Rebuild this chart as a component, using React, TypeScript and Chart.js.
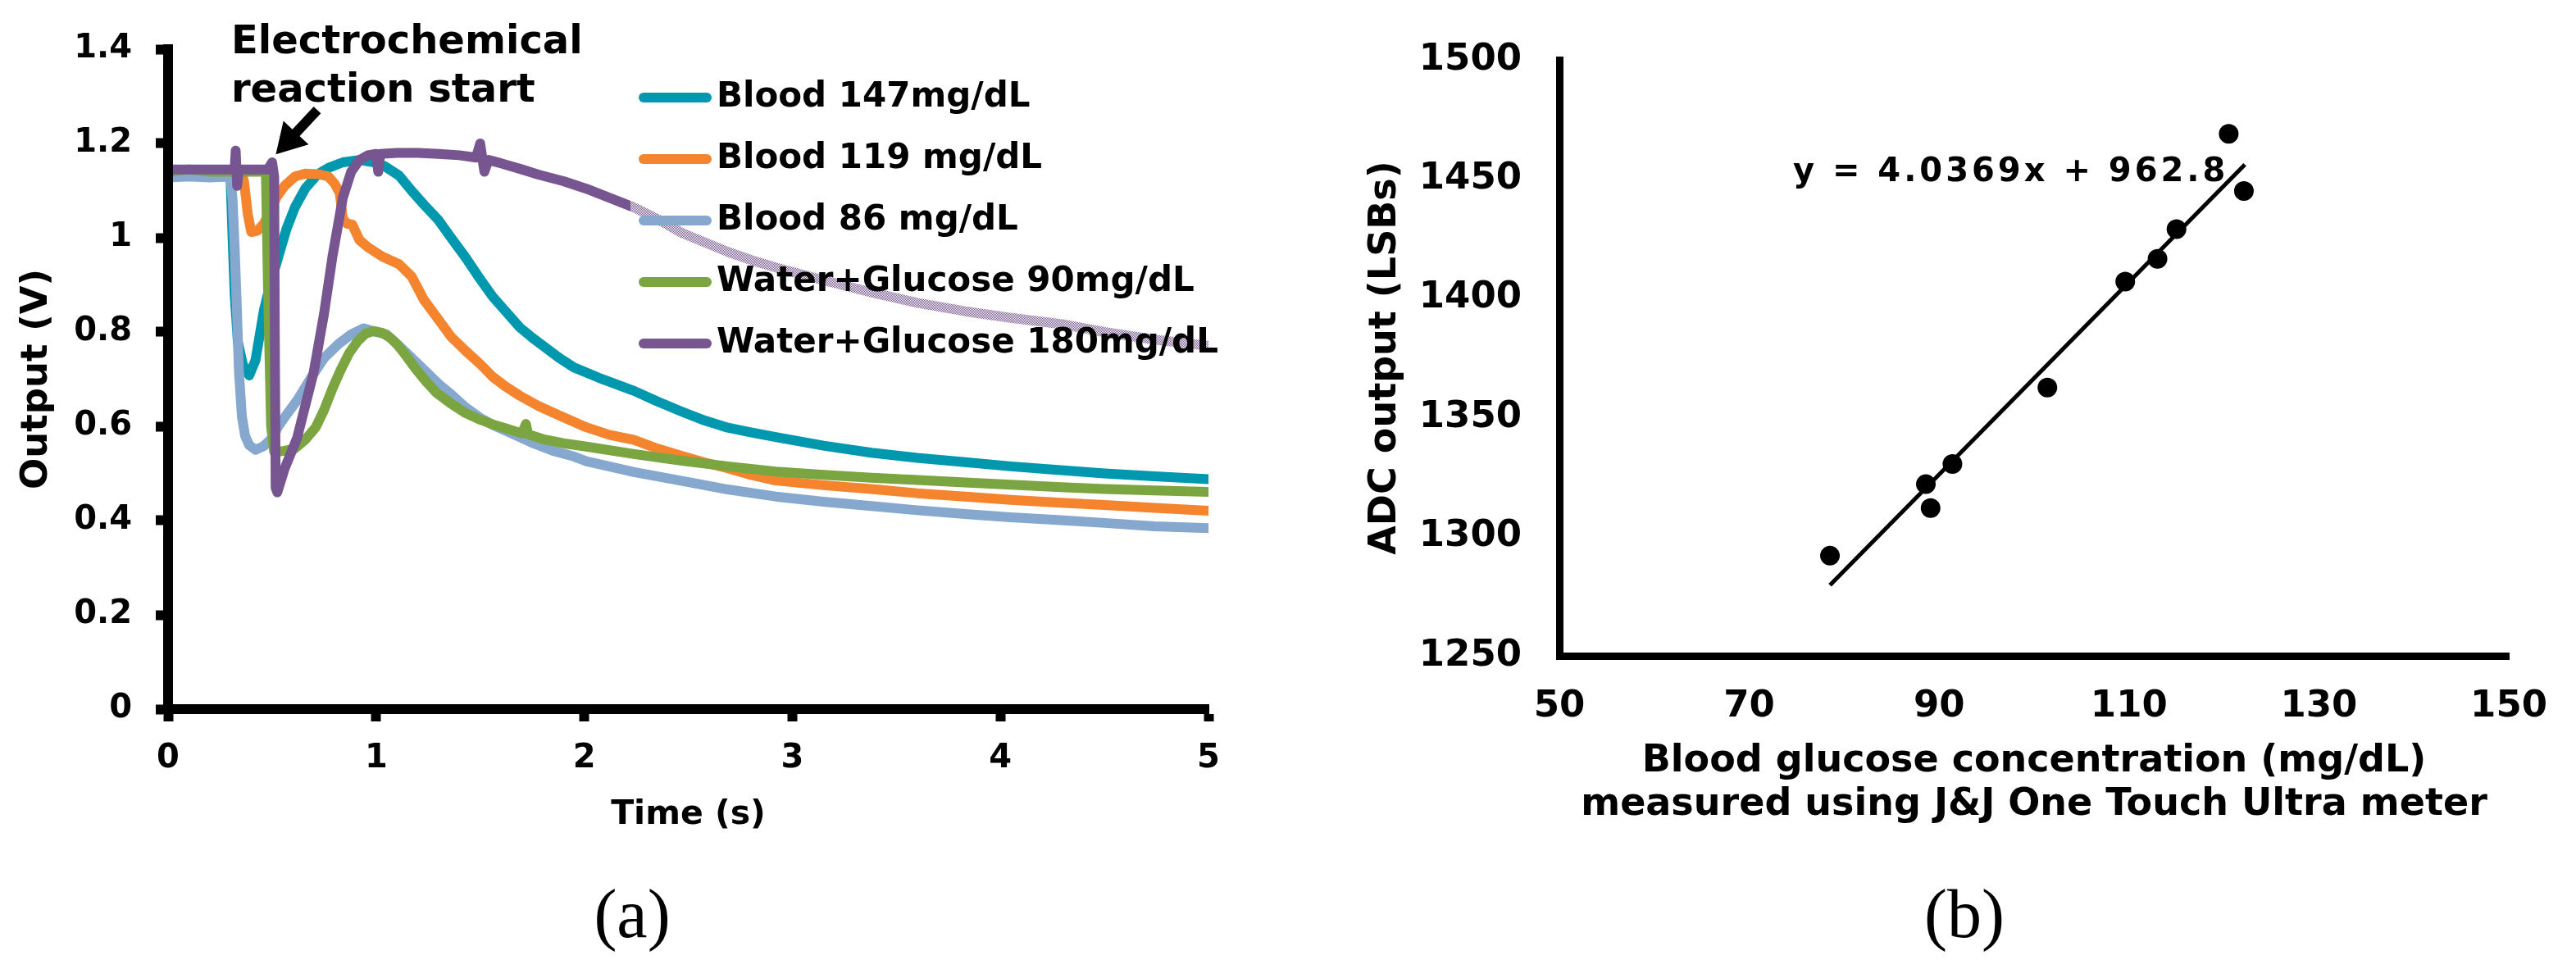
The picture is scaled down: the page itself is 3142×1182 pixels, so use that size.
import { useEffect, useRef } from 'react';
import { Chart, registerables } from 'chart.js';

Chart.register(...registerables);

const FONT = "'DejaVu Sans', Verdana, sans-serif";
Chart.defaults.font.family = FONT;
Chart.defaults.color = '#000';

// ---- (a) sensor output traces, [time (s), output (V)] ----
const blood147: [number, number][] = [
  [0, 1.13], [0.1, 1.132], [0.2, 1.13], [0.3, 1.13], [0.31, 1.0], [0.32, 0.88], [0.335, 0.78],
  [0.36, 0.73], [0.39, 0.708], [0.42, 0.74], [0.46, 0.845], [0.49, 0.9], [0.53, 0.96],
  [0.57, 1.02], [0.61, 1.065], [0.66, 1.105], [0.72, 1.135], [0.77, 1.148], [0.84, 1.16],
  [0.92, 1.165], [0.99, 1.16], [1.04, 1.152], [1.11, 1.132], [1.17, 1.1], [1.23, 1.07],
  [1.3, 1.037], [1.36, 1.0], [1.43, 0.958], [1.5, 0.912], [1.56, 0.875], [1.62, 0.845],
  [1.69, 0.81], [1.75, 0.788], [1.88, 0.745], [1.95, 0.725], [2.07, 0.703], [2.24, 0.675],
  [2.35, 0.653], [2.47, 0.631], [2.58, 0.612], [2.69, 0.597], [2.8, 0.587], [2.92, 0.577],
  [3.15, 0.559], [3.38, 0.544], [3.6, 0.533], [3.83, 0.524], [4.05, 0.515], [4.29, 0.507],
  [4.5, 0.5], [4.74, 0.494], [5, 0.488],
];

const blood119: [number, number][] = [
  [0, 1.14], [0.1, 1.142], [0.2, 1.14], [0.35, 1.14], [0.365, 1.12], [0.383, 1.05], [0.4, 1.012],
  [0.43, 1.015], [0.46, 1.03], [0.49, 1.055], [0.52, 1.085], [0.56, 1.11], [0.61, 1.13],
  [0.66, 1.136], [0.72, 1.135], [0.77, 1.13], [0.8, 1.115], [0.825, 1.095], [0.84, 1.04],
  [0.86, 1.03], [0.885, 1.028], [0.92, 0.995], [0.96, 0.98], [1.03, 0.96], [1.11, 0.944],
  [1.17, 0.918], [1.23, 0.868], [1.3, 0.826], [1.36, 0.79], [1.43, 0.76], [1.5, 0.732],
  [1.56, 0.705], [1.62, 0.685], [1.69, 0.665], [1.78, 0.643], [1.88, 0.623], [2.01, 0.598],
  [2.12, 0.582], [2.24, 0.571], [2.35, 0.553], [2.47, 0.537], [2.58, 0.523], [2.69, 0.511],
  [2.8, 0.497], [2.92, 0.485], [3.15, 0.475], [3.38, 0.467], [3.6, 0.458], [3.83, 0.451],
  [4.05, 0.444], [4.29, 0.438], [4.5, 0.433], [4.74, 0.427], [5, 0.421],
];

const blood86: [number, number][] = [
  [0, 1.128], [0.1, 1.13], [0.2, 1.128], [0.3, 1.13], [0.31, 1.08], [0.32, 0.98], [0.33, 0.86],
  [0.34, 0.72], [0.355, 0.62], [0.37, 0.58], [0.39, 0.56], [0.42, 0.55], [0.46, 0.558],
  [0.5, 0.575], [0.53, 0.6], [0.57, 0.625], [0.62, 0.655], [0.69, 0.705], [0.75, 0.745],
  [0.82, 0.775], [0.88, 0.795], [0.94, 0.808], [1.0, 0.8], [1.05, 0.795], [1.1, 0.775],
  [1.16, 0.75], [1.23, 0.72], [1.3, 0.69], [1.36, 0.668], [1.43, 0.64], [1.5, 0.618],
  [1.56, 0.603], [1.65, 0.585], [1.75, 0.565], [1.85, 0.548], [1.95, 0.536], [2.01, 0.526],
  [2.24, 0.503], [2.47, 0.484], [2.69, 0.466], [2.92, 0.451], [3.15, 0.44], [3.38, 0.431],
  [3.6, 0.422], [3.83, 0.414], [4.05, 0.407], [4.29, 0.401], [4.5, 0.395], [4.74, 0.388],
  [5, 0.384],
];

const water90: [number, number][] = [
  [0, 1.14], [0.1, 1.145], [0.2, 1.14], [0.47, 1.14], [0.48, 0.9], [0.495, 0.6], [0.51, 0.545],
  [0.56, 0.548], [0.61, 0.553], [0.66, 0.572], [0.71, 0.598], [0.75, 0.635], [0.79, 0.68],
  [0.83, 0.72], [0.87, 0.755], [0.91, 0.78], [0.95, 0.797], [0.99, 0.802], [1.03, 0.798],
  [1.07, 0.787], [1.1, 0.774], [1.14, 0.752], [1.19, 0.722], [1.24, 0.695], [1.29, 0.671],
  [1.36, 0.648], [1.43, 0.628], [1.5, 0.614], [1.56, 0.604], [1.62, 0.596], [1.7, 0.585],
  [1.72, 0.605], [1.73, 0.583], [1.8, 0.573], [1.9, 0.564], [2.01, 0.557], [2.24, 0.541],
  [2.47, 0.527], [2.69, 0.515], [2.92, 0.504], [3.15, 0.497], [3.38, 0.491], [3.6, 0.486],
  [3.83, 0.481], [4.05, 0.476], [4.29, 0.471], [4.5, 0.467], [4.74, 0.464], [5, 0.461],
];

const water180: [number, number][] = [
  [0, 1.145], [0.1, 1.145], [0.2, 1.145], [0.32, 1.145], [0.325, 1.185], [0.332, 1.11],
  [0.34, 1.145], [0.48, 1.145], [0.5, 1.16], [0.51, 1.13], [0.513, 0.8], [0.517, 0.47],
  [0.525, 0.46], [0.56, 0.51], [0.62, 0.575], [0.7, 0.715], [0.75, 0.84], [0.79, 0.96],
  [0.84, 1.085], [0.88, 1.14], [0.92, 1.165], [0.96, 1.175], [1.0, 1.178], [1.01, 1.14],
  [1.02, 1.178], [1.1, 1.18], [1.2, 1.18], [1.3, 1.178], [1.4, 1.175], [1.48, 1.17],
  [1.5, 1.2], [1.52, 1.14], [1.54, 1.165], [1.6, 1.158], [1.7, 1.145], [1.78, 1.134],
  [1.9, 1.12], [2.01, 1.104], [2.12, 1.085], [2.24, 1.064], [2.35, 1.04], [2.47, 1.01],
  [2.58, 0.99], [2.69, 0.97], [2.8, 0.953], [2.92, 0.937], [3.15, 0.91], [3.38, 0.884],
  [3.6, 0.862], [3.83, 0.844], [4.05, 0.83], [4.29, 0.817], [4.5, 0.8], [4.74, 0.784],
  [5, 0.771],
];

const traceSeries = [blood147, blood119, blood86, water90, water180];
const traceLabels = [
  'Blood 147mg/dL',
  'Blood 119 mg/dL',
  'Blood 86 mg/dL',
  'Water+Glucose 90mg/dL',
  'Water+Glucose 180mg/dL',
];
const traceColors = ['#0098ae', '#f5842f', '#86a8cf', '#7aa541', '#775590'];
const outputTicks = [0, 0.2, 0.4, 0.6, 0.8, 1, 1.2, 1.4];
const timeTicks = [0, 1, 2, 3, 4, 5];

// where the callout sits, in data units of panel (a)
const calloutText = ['Electrochemical', 'reaction start'];
const calloutAt = { x: 0.303, y: [1.391, 1.289] };
const arrowTail = { x: 0.717, y: 1.271 };
const arrowTip = { x: 0.518, y: 1.177 };

// ---- (b) calibration against the meter ----
const meterGlucose = [78.5, 88.6, 89.1, 91.4, 101.4, 109.6, 113, 115, 120.5, 122.1];
const adcOutput = [1292, 1322, 1312, 1330.5, 1362.5, 1407, 1416.5, 1429, 1469, 1445];
const trendX = [78.5, 122.2];
const trendY = [1279.7, 1456.1];
const glucoseTicks = [50, 70, 90, 110, 130, 150];
const adcTicks = [1250, 1300, 1350, 1400, 1450, 1500];
const trendLabel = 'y = 4.0369x + 962.8';
const trendLabelAt = { x: 74.6, y: 1449 };

function ditherPattern(ctx: CanvasRenderingContext2D) {
  const tile = document.createElement('canvas');
  tile.width = 2;
  tile.height = 2;
  const t = tile.getContext('2d')!;
  t.fillStyle = '#fff';
  t.fillRect(0, 0, 1, 1);
  t.fillRect(1, 1, 1, 1);
  return ctx.createPattern(tile, 'repeat')!;
}

// legend drawn over the plot, with the half-covering backdrop of the original
const tracesLegend = {
  id: 'tracesLegend',
  afterDatasetsDraw(chart: Chart) {
    const { ctx } = chart;
    ctx.save();
    ctx.fillStyle = ditherPattern(ctx);
    ctx.fillRect(769, 82, chart.width - 769, 370);

    ctx.font = `bold 42px ${FONT}`;
    ctx.textBaseline = 'middle';
    ctx.textAlign = 'left';
    chart.data.datasets.forEach((ds, i) => {
      const y = 119 + i * 75;
      ctx.strokeStyle = ds.borderColor as string;
      ctx.lineWidth = 12;
      ctx.lineCap = 'round';
      ctx.beginPath();
      ctx.moveTo(785, y);
      ctx.lineTo(862, y);
      ctx.stroke();
      ctx.fillStyle = '#000';
      ctx.fillText(ds.label as string, 874, y);
    });
    ctx.restore();
  },
  afterDraw(chart: Chart) {
    const { ctx, scales } = chart;
    const sx = scales.x;
    const sy = scales.y;
    ctx.save();
    ctx.fillStyle = '#000';
    ctx.font = `bold 48px ${FONT}`;
    ctx.textBaseline = 'alphabetic';
    ctx.textAlign = 'left';
    calloutText.forEach((line, i) => {
      ctx.fillText(line, sx.getPixelForValue(calloutAt.x), sy.getPixelForValue(calloutAt.y[i]));
    });

    const x0 = sx.getPixelForValue(arrowTail.x);
    const y0 = sy.getPixelForValue(arrowTail.y);
    const x1 = sx.getPixelForValue(arrowTip.x);
    const y1 = sy.getPixelForValue(arrowTip.y);
    const len = Math.hypot(x1 - x0, y1 - y0);
    const ux = (x1 - x0) / len;
    const uy = (y1 - y0) / len;
    const headLen = 36;
    const headHalf = 21;
    const bx = x1 - ux * headLen;
    const by = y1 - uy * headLen;
    ctx.strokeStyle = '#000';
    ctx.lineWidth = 12;
    ctx.lineCap = 'butt';
    ctx.beginPath();
    ctx.moveTo(x0, y0);
    ctx.lineTo(bx + ux * 4, by + uy * 4);
    ctx.stroke();
    ctx.beginPath();
    ctx.moveTo(x1, y1);
    ctx.lineTo(bx - uy * headHalf, by + ux * headHalf);
    ctx.lineTo(bx + uy * headHalf, by - ux * headHalf);
    ctx.closePath();
    ctx.fill();
    ctx.restore();
  },
};

const trendText = {
  id: 'trendText',
  afterDraw(chart: Chart) {
    const { ctx, scales } = chart;
    ctx.save();
    ctx.fillStyle = '#000';
    ctx.font = `bold 40px ${FONT}`;
    (ctx as any).letterSpacing = '4px';
    ctx.textAlign = 'left';
    ctx.textBaseline = 'alphabetic';
    ctx.fillText(
      trendLabel,
      scales.x.getPixelForValue(trendLabelAt.x),
      scales.y.getPixelForValue(trendLabelAt.y),
    );
    ctx.restore();
  },
};

function TracesChart() {
  const canvasRef = useRef<HTMLCanvasElement>(null);

  useEffect(() => {
    if (!canvasRef.current) return;

    const axisGrid = {
      drawOnChartArea: false,
      drawTicks: true,
      tickLength: 15,
      tickWidth: 12,
      tickColor: '#000',
    };
    const axisBorder = { display: true, color: '#000', width: 12, z: 1 };

    const chart = new Chart(canvasRef.current, {
      type: 'line',
      data: {
        datasets: traceSeries.map((pts, i) => ({
          label: traceLabels[i],
          data: pts.map(([x, y]) => ({ x, y })),
          borderColor: traceColors[i],
          backgroundColor: traceColors[i],
          borderWidth: 12,
          borderCapStyle: 'round' as const,
          borderJoinStyle: 'round' as const,
          pointRadius: 0,
          tension: 0,
          fill: false,
          // later series sit on top, as in the original
          order: traceSeries.length - i,
        })),
      },
      options: {
        responsive: false,
        animation: false,
        layout: { padding: { top: 60, right: 66, left: 0, bottom: 0 } },
        plugins: { legend: { display: false }, tooltip: { enabled: false } },
        scales: {
          x: {
            type: 'linear',
            min: 0,
            max: 5,
            afterBuildTicks: (s: any) => {
              s.ticks = timeTicks.map((value) => ({ value }));
            },
            afterFit: (s: any) => {
              s.height = 195;
            },
            grid: axisGrid,
            border: axisBorder,
            ticks: {
              color: '#000',
              padding: 22,
              maxRotation: 0,
              autoSkip: false,
              font: { size: 40, weight: 'bold' },
              callback: (v: any) => String(v),
            },
            title: {
              display: true,
              text: 'Time (s)',
              color: '#000',
              font: { size: 41, weight: 'bold' },
              padding: { top: 0, bottom: 41 },
            },
          },
          y: {
            type: 'linear',
            min: 0,
            max: 1.4,
            afterBuildTicks: (s: any) => {
              s.ticks = outputTicks.map((value) => ({ value }));
            },
            afterFit: (s: any) => {
              s.width = 205;
            },
            grid: axisGrid,
            border: axisBorder,
            ticks: {
              color: '#000',
              padding: 29,
              autoSkip: false,
              font: { size: 40, weight: 'bold' },
              callback: (v: any) => String(v),
            },
            title: {
              display: true,
              text: 'Output (V)',
              color: '#000',
              font: { size: 45, weight: 'bold' },
              padding: { top: 18, bottom: 0 },
            },
          },
        },
      },
      plugins: [tracesLegend],
    });

    return () => chart.destroy();
  }, []);

  return (
    <canvas
      ref={canvasRef}
      width={1540}
      height={1060}
      style={{ position: 'absolute', left: 0, top: 0, width: 1540, height: 1060 }}
    />
  );
}

function CalibrationChart() {
  const canvasRef = useRef<HTMLCanvasElement>(null);

  useEffect(() => {
    if (!canvasRef.current) return;

    const noGrid = { display: false, drawTicks: false };
    const axisBorder = { display: true, color: '#000', width: 9 };

    const chart = new Chart(canvasRef.current, {
      type: 'scatter',
      data: {
        datasets: [
          {
            label: 'ADC output',
            data: meterGlucose.map((x, i) => ({ x, y: adcOutput[i] })),
            pointRadius: 12,
            pointBackgroundColor: '#000',
            pointBorderWidth: 0,
            order: 1,
          },
          {
            label: 'Linear fit',
            data: trendX.map((x, i) => ({ x, y: trendY[i] })),
            showLine: true,
            borderColor: '#000',
            borderWidth: 5,
            pointRadius: 0,
            order: 2,
          },
        ],
      },
      options: {
        responsive: false,
        animation: false,
        layout: { padding: { top: 57, right: 61, left: 0, bottom: 0 } },
        plugins: { legend: { display: false }, tooltip: { enabled: false } },
        scales: {
          x: {
            type: 'linear',
            min: 50,
            max: 150,
            afterBuildTicks: (s: any) => {
              s.ticks = glucoseTicks.map((value) => ({ value }));
            },
            afterFit: (s: any) => {
              s.height = 260;
            },
            grid: noGrid,
            border: axisBorder,
            ticks: {
              color: '#000',
              padding: 35,
              maxRotation: 0,
              autoSkip: false,
              font: { size: 45, weight: 'bold' },
              callback: (v: any) => String(v),
            },
            title: {
              display: true,
              text: [
                'Blood glucose concentration (mg/dL)',
                'measured using J&J One Touch Ultra meter',
              ],
              color: '#000',
              font: { size: 46, weight: 'bold', lineHeight: 1.165 },
              padding: { top: 0, bottom: 51 },
            },
          },
          y: {
            type: 'linear',
            min: 1250,
            max: 1500,
            afterBuildTicks: (s: any) => {
              s.ticks = adcTicks.map((value) => ({ value }));
            },
            afterFit: (s: any) => {
              s.width = 302;
            },
            grid: noGrid,
            border: axisBorder,
            ticks: {
              color: '#000',
              padding: 46,
              autoSkip: false,
              font: { size: 45, weight: 'bold' },
              callback: (v: any) => String(v),
            },
            title: {
              display: true,
              text: 'ADC output (LSBs)',
              color: '#000',
              font: { size: 46, weight: 'bold' },
              padding: { top: 62, bottom: 0 },
            },
          },
        },
      },
      plugins: [trendText],
    });

    return () => chart.destroy();
  }, []);

  return (
    <canvas
      ref={canvasRef}
      width={1542}
      height={1060}
      style={{ position: 'absolute', left: 1600, top: 0, width: 1542, height: 1060 }}
    />
  );
}

const panelTag = {
  position: 'absolute' as const,
  top: 1115,
  transform: 'translate(-50%, -50%)',
  fontFamily: "'Liberation Serif', 'Times New Roman', serif",
  fontSize: 84,
  lineHeight: 1,
  color: '#000',
  whiteSpace: 'nowrap' as const,
};

export default function App() {
  return (
    <div
      style={{
        position: 'absolute',
        left: 0,
        top: 0,
        width: 3142,
        height: 1182,
        background: '#fff',
        overflow: 'hidden',
      }}
    >
      <TracesChart />
      <CalibrationChart />
      <div style={{ ...panelTag, left: 771 }}>(a)</div>
      <div style={{ ...panelTag, left: 2396 }}>(b)</div>
    </div>
  );
}
